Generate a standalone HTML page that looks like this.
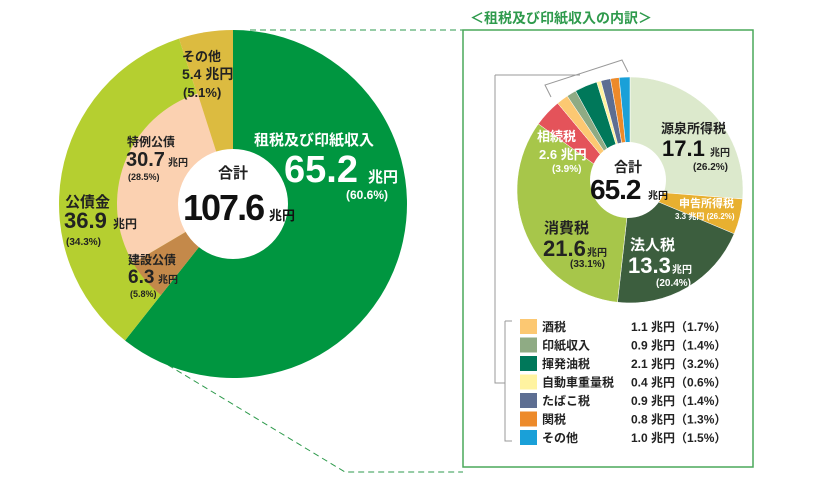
<!DOCTYPE html>
<html><head><meta charset="utf-8">
<style>
body{margin:0;background:#fff;}
svg{display:block;font-family:"Liberation Sans","Noto Sans CJK JP",sans-serif;font-weight:bold;}
</style></head>
<body>
<svg id="c" width="840" height="499" viewBox="0 0 840 499" xmlns="http://www.w3.org/2000/svg">
<g id="conn">
<path d="M250 30 L463 30 M168 365 L345 472 L463 472" fill="none" stroke="#2e9a4c" stroke-width="1" stroke-dasharray="6,4"/>
</g>
<rect x="463" y="30" width="290" height="437" fill="#fff" stroke="#4aa85a" stroke-width="1.5"/>
<text x="470" y="23" font-size="14" fill="#2e9a4c">＜租税及び印紙収入の内訳＞</text>
<g id="left"></g>
<g id="right"></g>
<path d="M495 75 L580 75 M495 75 L495 383 L505 383 M505 321 L512 321 M505 321 L505 441 L512 441 M551 97 L545 85 L622 60 L628 72" fill="none" stroke="#999" stroke-width="1"/>
<g id="legend"></g>
</svg>
<script>
const outerCats=["租税及び印紙収入","公債金","その他"];
const outerVals=[65.2,36.9,5.4];
const bondCats=["建設公債","特例公債"];
const bondVals=[6.3,30.7];
const taxCats=["源泉所得税","申告所得税","法人税","消費税","相続税","酒税","印紙収入","揮発油税","自動車重量税","たばこ税","関税","その他"];
const taxVals=[17.1,3.3,13.3,21.6,2.6,1.1,0.9,2.1,0.4,0.9,0.8,1.0];
const taxPcts=["26.2","26.2","20.4","33.1","3.9","1.7","1.4","3.2","0.6","1.4","1.3","1.5"];
const outerColors=["#009640","#b5cf30","#dcbb40"];
const bondColors=["#c4894a","#fbd1b1"];
const taxColors=["#dce9cc","#e8b030","#3c5e3e","#a7c64a","#e4535a","#fcc872","#8fab84","#00785a","#fff3a0","#5d6e92","#ed8a2a","#1aa0d8"];
const NS="http://www.w3.org/2000/svg";
function mk(t,a,p){const e=document.createElementNS(NS,t);for(const k in a)e.setAttribute(k,a[k]);p.appendChild(e);return e;}
function pt(cx,cy,r,f){const a=f*2*Math.PI-Math.PI/2;return [cx+r*Math.cos(a),cy+r*Math.sin(a)];}
function arc(cx,cy,r,f0,f1){const p0=pt(cx,cy,r,f0),p1=pt(cx,cy,r,f1);const l=(f1-f0)>0.5?1:0;return `M${cx} ${cy} L${p0[0]} ${p0[1]} A${r} ${r} 0 ${l} 1 ${p1[0]} ${p1[1]} Z`;}
function txt(p,x,y,s,size,fill,anchor){const t=mk("text",{x:x,y:y,"font-size":size,fill:fill,"text-anchor":anchor||"start"},p);t.textContent=s;return t;}
// left
const L=document.getElementById("left");
const lcx=233,lcy=204,lr=174;
const total=outerVals.reduce((a,b)=>a+b,0);
let acc=0;
outerVals.forEach((v,i)=>{const f0=acc/total,f1=(acc+v)/total;acc+=v;
const p=mk("path",{d:arc(lcx,lcy,lr,f0,f1),fill:outerColors[i]},L);

});
let bacc=outerVals[0];
bondVals.forEach((v,i)=>{const f0=bacc/total,f1=(bacc+v)/total;bacc+=v;
const p=mk("path",{d:arc(lcx,lcy,116,f0,f1),fill:bondColors[i]},L);

});
mk("circle",{cx:lcx,cy:lcy,r:55,fill:"#fff"},L);
txt(L,233,178,"合計",15,"#222","middle");
let t=txt(L,183,220,"107.6",36,"#111");t.setAttribute("letter-spacing","-2");
txt(L,269,220,"兆円",13,"#111");
txt(L,254,145,"租税及び印紙収入",15,"#fff");
txt(L,284,182,"65.2",38,"#fff");
txt(L,368,182,"兆円",15,"#fff");
txt(L,346,199,"(60.6%)",12,"#fff");
txt(L,182,61,"その他",13,"#222");
txt(L,182,79,"5.4 兆円",14,"#222");
txt(L,183,97,"(5.1%)",13,"#222");
txt(L,127,146,"特例公債",12,"#222");
txt(L,126,166,"30.7",20,"#222");
txt(L,168,166,"兆円",10,"#222");
txt(L,128,180,"(28.5%)",9,"#222");
txt(L,65,207,"公債金",15,"#222");
txt(L,64,228,"36.9",22,"#222");
txt(L,113,228,"兆円",12,"#222");
txt(L,66,245,"(34.3%)",10,"#222");
txt(L,128,264,"建設公債",12,"#222");
txt(L,128,283,"6.3",19,"#222");
txt(L,158,283,"兆円",10,"#222");
txt(L,130,297,"(5.8%)",9,"#222");
// right
const R=document.getElementById("right");
const rcx=630,rcy=190,rr=113;
const ttot=taxVals.reduce((a,b)=>a+b,0);
let ta=0;
taxVals.forEach((v,i)=>{const f0=ta/ttot,f1=(ta+v)/ttot;ta+=v;
const p=mk("path",{d:arc(rcx,rcy,rr,f0,f1),fill:taxColors[i],stroke:"#fff","stroke-width":0.5},R);

});
mk("circle",{cx:628,cy:180,r:38,fill:"#fff"},R);
txt(R,628,172,"合計",14,"#222","middle");
t=txt(R,590,199,"65.2",28,"#111");t.setAttribute("letter-spacing","-1");
txt(R,648,199,"兆円",10,"#111");
txt(R,661,133,"源泉所得税",13,"#222");
txt(R,662,156,taxVals[0].toFixed(1),22,"#111");
txt(R,710,156,"兆円",10,"#222");
txt(R,693,170,"("+taxPcts[0]+"%)",10,"#222");
txt(R,679,207,"申告所得税",11,"#fff");
txt(R,675,219,taxVals[1].toFixed(1)+" 兆円 ("+taxPcts[1]+"%)",8,"#fff");
txt(R,630,250,"法人税",15,"#fff");
txt(R,628,273,taxVals[2].toFixed(1),22,"#fff");
txt(R,672,273,"兆円",10,"#fff");
txt(R,656,286,"("+taxPcts[2]+"%)",10,"#fff");
txt(R,544,233,"消費税",15,"#222");
txt(R,543,256,taxVals[3].toFixed(1),22,"#222");
txt(R,587,256,"兆円",10,"#222");
txt(R,570,267,"("+taxPcts[3]+"%)",10,"#222");
txt(R,537,141,"相続税",13,"#fff");
txt(R,539,159,taxVals[4].toFixed(1)+" 兆円",13,"#fff");
txt(R,552,172,"("+taxPcts[4]+"%)",10,"#fff");
// legend
const G=document.getElementById("legend");
for(let i=5;i<taxCats.length;i++){const y=327+(i-5)*18.5;
const r=mk("rect",{x:520,y:y-8,width:17,height:15,fill:taxColors[i]},G);


const a=txt(G,542,y+4,taxCats[i],12,"#222");


const b=txt(G,631,y+4,taxVals[i].toFixed(1)+" 兆円（"+taxPcts[i]+"%）",12,"#222");

}
</script>
</body></html>
